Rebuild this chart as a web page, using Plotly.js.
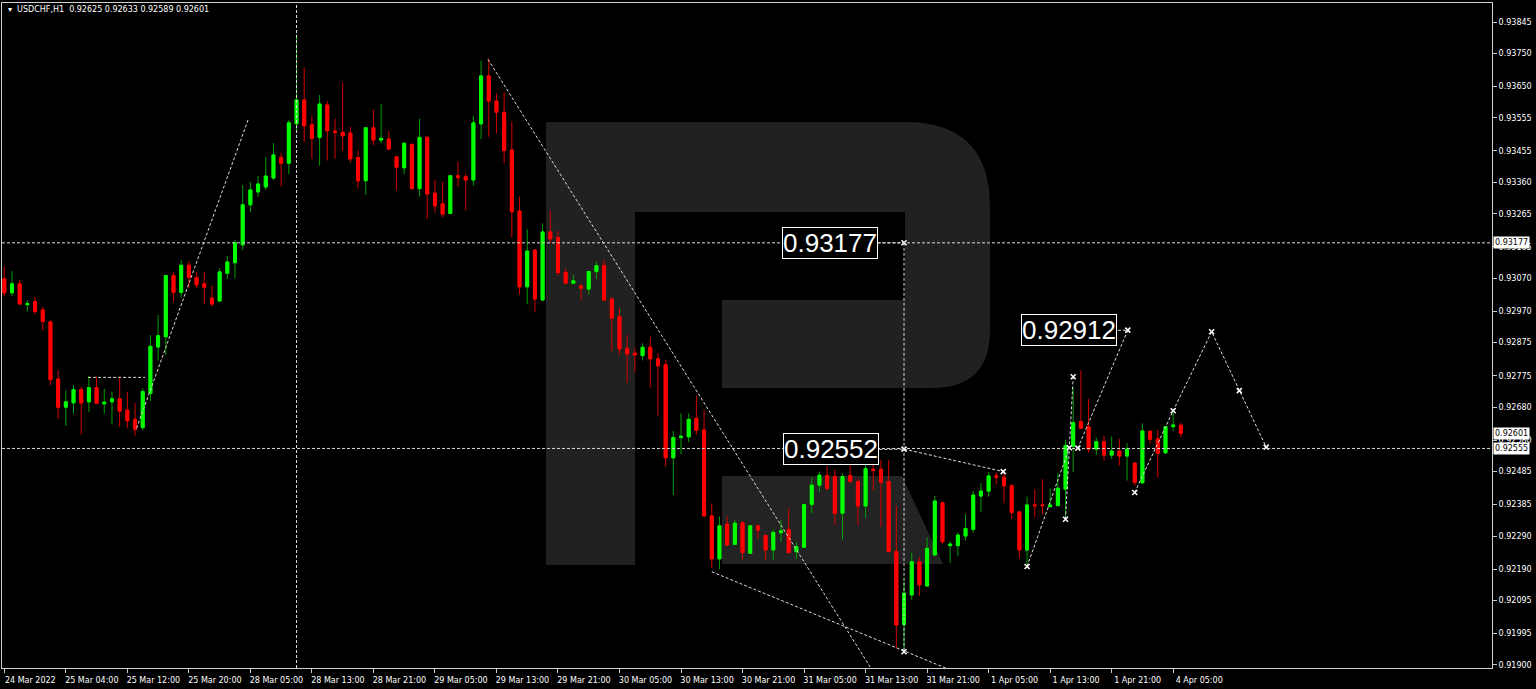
<!DOCTYPE html>
<html><head><meta charset="utf-8">
<script src="https://cdn.plot.ly/plotly-3.0.1.min.js"></script>
<style>html,body{margin:0;padding:0;background:#000;}#chart{width:1536px;height:689px;}</style>
</head><body><div id="chart"></div>
<script>
// ---- USDCHF H1 candles (index 0 = 24 Mar 2022 20:00) ----
const open = [0.93068,0.93026,0.93053,0.92990,0.92999,0.92974,0.92938,0.92765,0.92680,0.92693,
0.92733,0.92696,0.92739,0.92690,0.92696,0.92705,0.92671,0.92643,0.92618,0.92722,
0.92862,0.92893,0.93078,0.93027,0.93109,0.93072,0.93053,0.93010,0.93001,0.93085,
0.93117,0.93171,0.93292,0.93331,0.93346,0.93373,0.93435,0.93418,0.93537,0.93609,
0.93534,0.93496,0.93594,0.93515,0.93511,0.93509,0.93435,0.93365,0.93525,0.93488,
0.93491,0.93437,0.93404,0.93475,0.93341,0.93496,0.93327,0.93295,0.93266,0.93380,
0.93377,0.93367,0.93537,0.93682,0.93606,0.93572,0.93458,0.93273,0.93044,0.93155,
0.93004,0.93210,0.93193,0.93088,0.93055,0.93047,0.93037,0.93090,0.93108,0.93007,
0.92954,0.92858,0.92843,0.92836,0.92861,0.92826,0.92808,0.92527,0.92588,0.92590,
0.92646,0.92611,0.92351,0.92221,0.92326,0.92265,0.92330,0.92238,0.92321,0.92292,
0.92248,0.92300,0.92310,0.92243,0.92256,0.92386,0.92444,0.92473,0.92470,0.92359,
0.92473,0.92455,0.92381,0.92492,0.92492,0.92455,0.92243,0.92023,0.92112,0.92212,
0.92139,0.92233,0.92391,0.92261,0.92261,0.92290,0.92310,0.92411,0.92426,0.92472,
0.92468,0.92442,0.92363,0.92248,0.92384,0.92384,0.92379,0.92382,0.92432,0.92562,
0.92636,0.92621,0.92553,0.92575,0.92535,0.92547,0.92532,0.92511,0.92451,0.92607,
0.92584,0.92542,0.92621,0.92625];
const high = [0.93105,0.93092,0.93065,0.93004,0.93013,0.92984,0.92942,0.92792,0.92730,0.92747,
0.92742,0.92774,0.92772,0.92735,0.92727,0.92772,0.92727,0.92692,0.92737,0.92898,
0.92959,0.93080,0.93088,0.93125,0.93122,0.93088,0.93089,0.93047,0.93100,0.93137,
0.93186,0.93352,0.93361,0.93379,0.93437,0.93479,0.93449,0.93549,0.93808,0.93708,
0.93561,0.93624,0.93606,0.93552,0.93661,0.93527,0.93456,0.93527,0.93579,0.93597,
0.93515,0.93438,0.93480,0.93476,0.93552,0.93500,0.93367,0.93361,0.93382,0.93422,
0.93387,0.93561,0.93728,0.93735,0.93629,0.93632,0.93543,0.93317,0.93218,0.93157,
0.93236,0.93273,0.93213,0.93100,0.93080,0.93050,0.93092,0.93120,0.93125,0.93012,
0.92979,0.92898,0.92858,0.92873,0.92893,0.92843,0.92823,0.92608,0.92661,0.92661,
0.92715,0.92671,0.92389,0.92349,0.92349,0.92339,0.92334,0.92322,0.92322,0.92293,
0.92310,0.92339,0.92374,0.92271,0.92386,0.92468,0.92485,0.92502,0.92490,0.92480,
0.92520,0.92462,0.92522,0.92520,0.92520,0.92520,0.92381,0.92152,0.92240,0.92226,
0.92286,0.92412,0.92392,0.92273,0.92301,0.92357,0.92426,0.92450,0.92483,0.92483,
0.92483,0.92447,0.92364,0.92409,0.92432,0.92462,0.92434,0.92480,0.92581,0.92737,
0.92792,0.92705,0.92588,0.92593,0.92591,0.92584,0.92571,0.92512,0.92631,0.92608,
0.92611,0.92623,0.92663,0.92633];
const low = [0.93016,0.93016,0.92991,0.92969,0.92962,0.92913,0.92747,0.92645,0.92623,0.92660,
0.92596,0.92665,0.92690,0.92660,0.92628,0.92620,0.92616,0.92594,0.92610,0.92699,
0.92821,0.92838,0.92999,0.93011,0.93040,0.93040,0.92992,0.92984,0.93001,0.93068,
0.93069,0.93155,0.93270,0.93316,0.93337,0.93367,0.93347,0.93385,0.93513,0.93481,
0.93431,0.93410,0.93426,0.93431,0.93456,0.93418,0.93342,0.93322,0.93473,0.93478,
0.93458,0.93336,0.93385,0.93339,0.93317,0.93249,0.93268,0.93254,0.93264,0.93347,
0.93276,0.93350,0.93491,0.93498,0.93508,0.93418,0.93193,0.93021,0.92992,0.92969,
0.93003,0.93177,0.93077,0.93053,0.93053,0.93002,0.93019,0.93068,0.93002,0.92850,
0.92838,0.92754,0.92785,0.92821,0.92739,0.92654,0.92500,0.92414,0.92538,0.92574,
0.92596,0.92349,0.92193,0.92190,0.92258,0.92263,0.92218,0.92237,0.92281,0.92218,
0.92218,0.92273,0.92238,0.92220,0.92255,0.92359,0.92424,0.92429,0.92324,0.92280,
0.92450,0.92324,0.92344,0.92429,0.92318,0.92241,0.91950,0.91940,0.92097,0.92109,
0.92138,0.92230,0.92266,0.92209,0.92230,0.92276,0.92300,0.92362,0.92409,0.92447,
0.92389,0.92342,0.92223,0.92197,0.92348,0.92355,0.92376,0.92381,0.92339,0.92483,
0.92614,0.92542,0.92535,0.92518,0.92523,0.92503,0.92458,0.92442,0.92450,0.92569,
0.92467,0.92538,0.92608,0.92589];
const close = [0.93026,0.93053,0.92992,0.92993,0.92969,0.92939,0.92763,0.92680,0.92696,0.92733,
0.92693,0.92739,0.92692,0.92695,0.92705,0.92668,0.92639,0.92613,0.92727,0.92864,
0.92896,0.93078,0.93027,0.93109,0.93072,0.93050,0.93043,0.92992,0.93089,0.93119,
0.93177,0.93292,0.93337,0.93355,0.93379,0.93443,0.93418,0.93540,0.93609,0.93531,
0.93493,0.93597,0.93516,0.93511,0.93501,0.93431,0.93365,0.93525,0.93488,0.93493,
0.93461,0.93406,0.93478,0.93341,0.93496,0.93325,0.93289,0.93264,0.93380,0.93374,
0.93367,0.93540,0.93682,0.93606,0.93572,0.93456,0.93271,0.93044,0.93152,0.93007,
0.93210,0.93189,0.93087,0.93055,0.93062,0.93040,0.93090,0.93108,0.93004,0.92949,
0.92856,0.92841,0.92838,0.92861,0.92826,0.92805,0.92527,0.92588,0.92592,0.92643,
0.92610,0.92351,0.92221,0.92321,0.92263,0.92329,0.92240,0.92321,0.92308,0.92248,
0.92301,0.92306,0.92240,0.92258,0.92385,0.92444,0.92474,0.92434,0.92359,0.92470,
0.92455,0.92381,0.92494,0.92489,0.92453,0.92243,0.92021,0.92117,0.92212,0.92142,
0.92253,0.92396,0.92273,0.92266,0.92293,0.92313,0.92414,0.92426,0.92472,0.92468,
0.92442,0.92361,0.92248,0.92384,0.92382,0.92382,0.92384,0.92435,0.92564,0.92633,
0.92616,0.92553,0.92575,0.92535,0.92547,0.92532,0.92553,0.92453,0.92608,0.92583,
0.92540,0.92621,0.92626,0.92601];

// ---- axis labels ----
const timeTickIndex = [0,8,16,24,32,40,48,56,64,72,80,88,96,104,112,120,128,136,144,152];
const timeTickLabels = ['24 Mar 2022','25 Mar 04:00','25 Mar 12:00','25 Mar 20:00','28 Mar 05:00',
'28 Mar 13:00','28 Mar 21:00','29 Mar 05:00','29 Mar 13:00','29 Mar 21:00','30 Mar 05:00',
'30 Mar 13:00','30 Mar 21:00','31 Mar 05:00','31 Mar 13:00','31 Mar 21:00','1 Apr 05:00',
'1 Apr 13:00','1 Apr 21:00','4 Apr 05:00'];
const priceTicks = [0.91900,0.91995,0.92095,0.92190,0.92290,0.92385,0.92485,0.92580,0.92680,0.92775,
0.92875,0.92970,0.93070,0.93165,0.93265,0.93360,0.93455,0.93555,0.93650,0.93750,0.93845];
const priceTickLabels = priceTicks.map(v => v.toFixed(5));

// ---- drawn levels / analysis lines ----
const levelPrices = [0.93177, 0.92555];
const levelBigLabels = ['0.93177', '0.92552', '0.92912'];
const levelBigX = [113.6, 113.8, 144.7];
const levelBigY = [0.93177, 0.92552, 0.92912];
const axisTagPrices = [0.93177, 0.92601, 0.92555];
const vLineBar = 38;
const lineFlatX = [10.9, 18.3],  lineFlatY = [0.92770, 0.92770];
const lineRiseX = [17.2, 31.7],  lineRiseY = [0.92616, 0.93549];
const lineFallX = [62.9, 112.6], lineFallY = [0.93732, 0.91894];
const lineLowX = [92.0, 122.7],  lineLowY = [0.92182, 0.91888];
const lineVertX = [117, 117],    lineVertY = [0.93177, 0.91940];
const lineTagAX = [113.6, 117],  lineTagAY = [0.93177, 0.93177];
const lineMidX = [113.8, 117, 129.9], lineMidY = [0.92552, 0.92553, 0.92485];
const lineUp1X = [133.0, 138.5], lineUp1Y = [0.92198, 0.92557];
const lineUp2X = [138.0, 139.0], lineUp2Y = [0.92341, 0.92772];
const lineUp3X = [139.6, 146.1, 144.7], lineUp3Y = [0.92556, 0.92913, 0.92912];
const waveX = [147.0, 152.0, 157.0, 160.6, 164.1];
const waveY = [0.92422, 0.92669, 0.92908, 0.92730, 0.92559];
const markX = [117, 117, 117, 129.9, 133.0, 138.0, 138.5, 139.0, 139.6, 146.1, 147.0, 152.0, 157.0, 160.6, 164.1];
const markY = [0.93177, 0.92553, 0.91940, 0.92485, 0.92198, 0.92341, 0.92557, 0.92772, 0.92556, 0.92913, 0.92422, 0.92669, 0.92908, 0.92730, 0.92559];

const barIndex = open.map((_, i) => i);
const bodyHigh = open.map((o, i) => Math.max(o, close[i]));
const bodyLow = open.map((o, i) => Math.min(o, close[i]));

const DOT = {color: '#dcdcdc', width: 1, dash: '3px,2px'};
const lineTrace = (x, y) => ({type: 'scatter', mode: 'lines', x, y, line: DOT, hoverinfo: 'skip', showlegend: false});

const traces = [
  {type: 'candlestick', x: barIndex, open, high, low, close, showlegend: false, hoverinfo: 'skip',
   increasing: {line: {color: '#00a000', width: 1}, fillcolor: '#00ff00'},
   decreasing: {line: {color: '#d40000', width: 1}, fillcolor: '#ff0000'}},
  {type: 'candlestick', x: barIndex, open, high: bodyHigh, low: bodyLow, close, showlegend: false, hoverinfo: 'skip',
   increasing: {line: {color: '#00ff00', width: 1}, fillcolor: '#00ff00'},
   decreasing: {line: {color: '#ff0000', width: 1}, fillcolor: '#ff0000'}},
  lineTrace(lineFlatX, lineFlatY), lineTrace(lineRiseX, lineRiseY), lineTrace(lineFallX, lineFallY),
  lineTrace(lineLowX, lineLowY), lineTrace(lineVertX, lineVertY), lineTrace(lineTagAX, lineTagAY),
  lineTrace(lineMidX, lineMidY), lineTrace(lineUp1X, lineUp1Y), lineTrace(lineUp2X, lineUp2Y),
  lineTrace(lineUp3X, lineUp3Y), lineTrace(waveX, waveY),
  {type: 'scatter', mode: 'markers', x: markX, y: markY, hoverinfo: 'skip', showlegend: false,
   marker: {symbol: 'x-thin', size: 5, line: {color: '#ffffff', width: 1.5}, color: '#ffffff'}}
];

// logo (decoration) in paper coordinates
const PX = x => (x - 2) / 1490, PY = y => (668 - y) / 665;
const P = (x, y) => PX(x).toFixed(5) + ',' + PY(y).toFixed(5);
const logoPath = 'M' + P(546,122) + ' L' + P(905,122) + ' Q' + P(990,122) + ' ' + P(990,207) +
  ' L' + P(990,330) + ' Q' + P(990,388) + ' ' + P(932,388) + ' L' + P(722,388) + ' L' + P(722,300) +
  ' L' + P(905,300) + ' L' + P(905,212) + ' L' + P(635,212) + ' L' + P(635,565) + ' L' + P(546,565) + ' Z';
const legPath = 'M' + P(722,476) + ' L' + P(902,476) + ' L' + P(943,564) + ' L' + P(722,564) + ' Z';

const shapes = [
  {type: 'path', xref: 'paper', yref: 'paper', path: logoPath, fillcolor: '#212121', line: {width: 0}, layer: 'below'},
  {type: 'path', xref: 'paper', yref: 'paper', path: legPath, fillcolor: '#232323', line: {width: 0}, layer: 'below'},
  ...levelPrices.map(p => ({type: 'line', xref: 'paper', x0: 0, x1: 1, yref: 'y', y0: p, y1: p, line: DOT})),
  {type: 'line', xref: 'x', x0: vLineBar, x1: vLineBar, yref: 'paper', y0: 0, y1: 1, line: DOT}
];

const FONT = 'DejaVu Sans, Verdana, sans-serif';
const annotations = [
  {xref: 'paper', yref: 'paper', x: 0, y: 1, xshift: 4, yshift: -6, xanchor: 'left', yanchor: 'middle', showarrow: false,
   text: '\u25BE\u00a0\u00a0USDCHF,H1\u00a0\u00a00.92625 0.92633 0.92589 0.92601', font: {family: FONT, size: 8, color: '#ffffff'}},
  ...levelBigLabels.map((t, i) => ({xref: 'x', yref: 'y', x: levelBigX[i], y: levelBigY[i], xanchor: 'right', yanchor: 'middle',
   showarrow: false, text: t, font: {family: 'Liberation Sans, Arial, sans-serif', size: 26, color: '#ffffff'},
   bgcolor: '#000000', bordercolor: '#ffffff', borderwidth: 1, borderpad: 0})),
  ...axisTagPrices.map(p => ({xref: 'paper', yref: 'y', x: 1, y: p, xshift: 1, xanchor: 'left', yanchor: 'middle',
   showarrow: false, text: p.toFixed(5), font: {family: FONT, size: 8, color: '#000000'}, bgcolor: '#ffffff', borderpad: 1}))
];

const layout = {
  width: 1536, height: 689,
  margin: {l: 2, r: 44, t: 3, b: 21},
  paper_bgcolor: '#000000', plot_bgcolor: '#000000',
  showlegend: false, boxgap: 0.45, boxmode: 'overlay',
  xaxis: {range: [-0.3, 193.46], showgrid: false, zeroline: false, rangeslider: {visible: false},
    tickmode: 'array', tickvals: timeTickIndex, ticktext: timeTickLabels,
    ticks: 'outside', ticklen: 4, tickcolor: '#c8c8c8', ticklabelshift: 26,
    tickfont: {family: FONT, size: 8, color: '#ffffff'},
    showline: true, linecolor: '#d0d0d0', linewidth: 1, mirror: true, fixedrange: true},
  yaxis: {range: [0.918909, 0.939025], side: 'right', showgrid: false, zeroline: false,
    tickmode: 'array', tickvals: priceTicks, ticktext: priceTickLabels,
    ticks: 'outside', ticklen: 4, tickcolor: '#c8c8c8',
    tickfont: {family: FONT, size: 8, color: '#ffffff'},
    showline: true, linecolor: '#d0d0d0', linewidth: 1, mirror: true, fixedrange: true},
  shapes, annotations
};

Plotly.newPlot('chart', traces, layout, {staticPlot: true, displayModeBar: false});
</script></body></html>
